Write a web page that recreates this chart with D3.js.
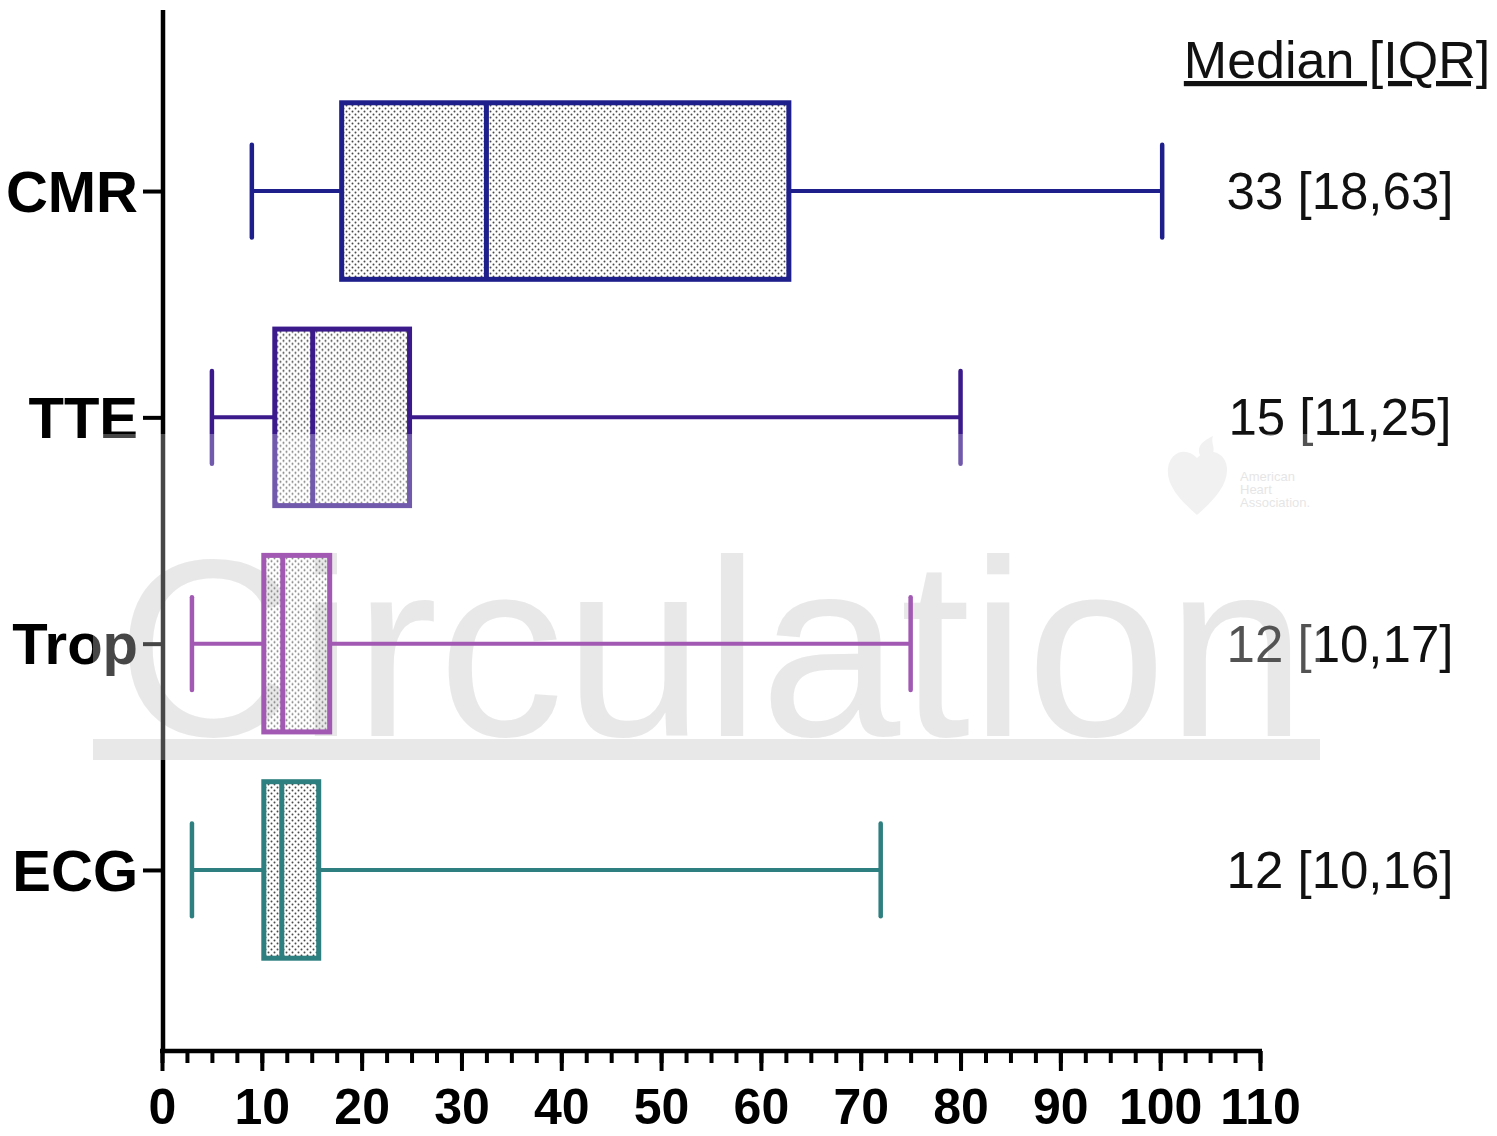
<!DOCTYPE html>
<html>
<head>
<meta charset="utf-8">
<script src="https://cdn.jsdelivr.net/npm/d3@7"></script>
<style>
  html, body { margin: 0; padding: 0; background: #fff; }
  svg { display: block; }
</style>
</head>
<body>
<div id="chart"></div>
<script>
// data
const categories = ["CMR", "TTE", "Trop", "ECG"];
const whiskerMin = [9, 5, 3, 3];
const q1 = [18, 11.3, 10.2, 10.2];
const medians = [32.5, 15.1, 12.1, 12];
const q3 = [62.8, 24.8, 16.8, 15.7];
const whiskerMax = [100.2, 80, 75, 72];
const iqrLabels = ["33 [18,63]", "15 [11,25]", "12 [10,17]", "12 [10,16]"];
const colors = ["#1f1f8c", "#3b1a8c", "#7e1a96", "#2e7f7f"];
const majorTicks = d3.range(0, 111, 10);
const minorTicks = d3.range(0, 110.1, 2.5);

const width = 1497, height = 1136;
const font = "'Liberation Sans', Arial, Helvetica, sans-serif";

const svg = d3.select("#chart").append("svg")
  .attr("width", width)
  .attr("height", height)
  .attr("viewBox", `0 0 ${width} ${height}`);

// dotted fill pattern
const defs = svg.append("defs");
const pat = defs.append("pattern")
  .attr("id", "dots")
  .attr("patternUnits", "userSpaceOnUse")
  .attr("width", 6).attr("height", 6);
pat.append("circle").attr("cx", 1.5).attr("cy", 1.5).attr("r", 1).attr("fill", "#444");
pat.append("circle").attr("cx", 4.5).attr("cy", 4.5).attr("r", 1).attr("fill", "#444");

const xScale = d3.scaleLinear().domain([0, 110]).range([162, 1260]);
const yScale = d3.scalePoint().domain(categories).range([10, 1051]).padding(0.8);
const step = yScale.step();
const boxH = step * 0.78;
const capH = step * 0.41;

// watermark (behind)
const wm = svg.append("g").attr("class", "watermark");
wm.append("text")
  .attr("x", 116).attr("y", 736)
  .attr("font-family", font)
  .attr("font-size", 252)
  .attr("fill", "#e0e0e0")
  .text("Circulation");
wm.append("rect")
  .attr("x", 93).attr("y", 739).attr("width", 1227).attr("height", 21)
  .attr("fill", "#e0e0e0");

// AHA logo (faint)
const logo = svg.append("g").attr("fill", "#ececec");
logo.append("path")
  .attr("d", "M1197,515 C1180,500 1166,485 1168,468 C1170,452 1186,446 1197,458 C1208,446 1226,452 1227,468 C1228,485 1214,500 1197,515 Z");
logo.append("path")
  .attr("d", "M1200,455 C1196,445 1205,440 1213,436 C1210,445 1218,448 1210,458 Z");
["American", "Heart", "Association."].forEach((t, i) => {
  logo.append("text")
    .attr("x", 1240).attr("y", 481 + i * 13)
    .attr("font-family", font).attr("font-size", 13)
    .attr("fill", "#dcdcdc")
    .text(t);
});

// x axis: minor ticks then major ticks with labels
svg.append("g")
  .attr("transform", `translate(0, 1051)`)
  .call(d3.axisBottom(xScale).tickValues(minorTicks).tickSize(12).tickSizeOuter(0).tickFormat(""))
  .call(g => g.select(".domain").remove())
  .selectAll("line").attr("stroke", "#000").attr("stroke-width", 4);

const xAxis = svg.append("g")
  .attr("transform", `translate(0, 1051)`)
  .call(d3.axisBottom(xScale).tickValues(majorTicks).tickSize(20).tickSizeOuter(0).tickPadding(17));
xAxis.select(".domain")
  .attr("stroke", "#000").attr("stroke-width", 4.5)
  .attr("d", `M${xScale(0) - 2},0H${xScale(110) + 2}`);
xAxis.selectAll(".tick line").attr("stroke", "#000").attr("stroke-width", 4);
xAxis.selectAll(".tick text")
  .attr("font-family", font)
  .attr("font-size", 50)
  .attr("font-weight", "bold")
  .attr("fill", "#000");

// y axis
const yAxis = svg.append("g")
  .attr("transform", `translate(163, 0)`)
  .call(d3.axisLeft(yScale).tickSize(20).tickSizeOuter(0).tickPadding(5));
yAxis.select(".domain")
  .attr("stroke", "#000").attr("stroke-width", 4.5)
  .attr("d", "M0,10V1053");
yAxis.selectAll(".tick line").attr("stroke", "#000").attr("stroke-width", 4);
yAxis.selectAll(".tick text")
  .attr("font-family", font)
  .attr("font-size", 58)
  .attr("font-weight", "bold")
  .attr("fill", "#000")
  .attr("dy", "0.35em");

// boxes
const rows = categories.map((c, i) => ({
  cat: c, lo: whiskerMin[i], q1: q1[i], med: medians[i], q3: q3[i], hi: whiskerMax[i],
  label: iqrLabels[i], color: colors[i]
}));

const box = svg.append("g").attr("class", "boxes")
  .selectAll("g")
  .data(rows)
  .join("g")
  .attr("transform", d => `translate(0, ${yScale(d.cat)})`);

box.append("line")
  .attr("x1", d => xScale(d.lo)).attr("x2", d => xScale(d.q1))
  .attr("stroke", d => d.color).attr("stroke-width", 4);
box.append("line")
  .attr("x1", d => xScale(d.q3)).attr("x2", d => xScale(d.hi))
  .attr("stroke", d => d.color).attr("stroke-width", 4);
box.append("line")
  .attr("x1", d => xScale(d.lo)).attr("x2", d => xScale(d.lo))
  .attr("y1", -capH / 2).attr("y2", capH / 2)
  .attr("stroke", d => d.color).attr("stroke-width", 4.5).attr("stroke-linecap", "round");
box.append("line")
  .attr("x1", d => xScale(d.hi)).attr("x2", d => xScale(d.hi))
  .attr("y1", -capH / 2).attr("y2", capH / 2)
  .attr("stroke", d => d.color).attr("stroke-width", 4.5).attr("stroke-linecap", "round");
box.append("rect")
  .attr("x", d => xScale(d.q1))
  .attr("y", -boxH / 2)
  .attr("width", d => xScale(d.q3) - xScale(d.q1))
  .attr("height", boxH)
  .attr("fill", "url(#dots)")
  .attr("stroke", d => d.color)
  .attr("stroke-width", 5);
box.append("line")
  .attr("x1", d => xScale(d.med)).attr("x2", d => xScale(d.med))
  .attr("y1", -boxH / 2).attr("y2", boxH / 2)
  .attr("stroke", d => d.color).attr("stroke-width", 5);

// right-hand labels
box.append("text")
  .attr("x", 1340).attr("y", 0).attr("dy", "0.35em")
  .attr("text-anchor", "middle")
  .attr("font-family", font).attr("font-size", 51)
  .attr("fill", "#111")
  .text(d => d.label);

svg.append("text")
  .attr("x", 1337).attr("y", 78)
  .attr("text-anchor", "middle")
  .attr("font-family", font).attr("font-size", 52)
  .attr("fill", "#111")
  .attr("text-decoration", "underline")
  .text("Median [IQR]");

// watermark fade over the middle region
svg.append("rect")
  .attr("x", 93).attr("y", 434).attr("width", 1227).attr("height", 326)
  .attr("fill", "#fff").attr("opacity", 0.28);
</script>
</body>
</html>
